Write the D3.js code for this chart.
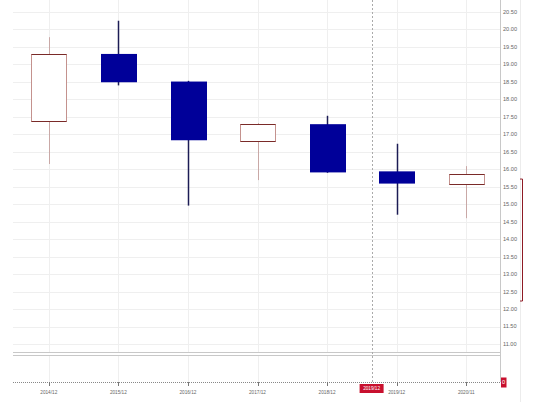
<!DOCTYPE html>
<html>
<head>
<meta charset="utf-8">
<script src="https://cdn.jsdelivr.net/npm/d3@7"></script>
<style>
  body { margin: 0; background: #fff; }
  svg { display: block; font-family: "Liberation Sans", Arial, sans-serif; }
  .grid line { stroke: #efefef; stroke-width: 1; }
  .ylab { fill: #666; font-size: 5.6px; }
  .xlab { fill: #666; font-size: 4.7px; }
</style>
</head>
<body>
<div id="chart"></div>
<script>
// candle data (period labels, OHLC)
var periods = ["2014/12", "2015/12", "2016/12", "2017/12", "2018/12", "2019/12", "2020/11"];
var opens  = [17.38, 19.30, 18.51, 16.80, 17.29, 15.94, 15.57];
var highs  = [19.78, 20.25, 18.53, 17.32, 17.53, 16.73, 16.09];
var lows   = [16.15, 18.40, 14.96, 15.69, 15.90, 14.70, 14.60];
var closes = [19.30, 18.49, 16.83, 17.29, 15.91, 15.59, 15.86];

var priceTicks = [11, 11.5, 12, 12.5, 13, 13.5, 14, 14.5, 15, 15.5, 16, 16.5, 17, 17.5, 18, 18.5, 19, 19.5, 20, 20.5];
var rangeMarker = [12.23, 15.72];   // bracket on the price axis
var crossIndex = 4.64;              // crosshair position (in candle index units)
var crossLabel = "2019/12";
var lowerValue = 0;                 // lower panel reading

var data = periods.map(function(p, i) {
    return {period: p, open: opens[i], high: highs[i], low: lows[i], close: closes[i]};
});

var W = 546, H = 413;
var plotLeft = 13, plotRight = 500,
    mainTop = 0, mainBottom = 352,
    lowTop = 355, lowBottom = 382;

var svg = d3.select("#chart").append("svg")
    .attr("width", W)
    .attr("height", H);

var x = d3.scaleBand()
    .domain(periods)
    .range([plotLeft + 1, plotRight + 1])
    .paddingInner(0.5)
    .paddingOuter(0.25);

var bw = x.bandwidth();
function cx(p) { return x(p) + bw / 2; }

var xi = d3.scaleLinear()
    .domain([0, periods.length - 1])
    .range([cx(periods[0]), cx(periods[periods.length - 1])]);

var y = d3.scaleLinear()
    .domain([11, 20.5])
    .range([344, 12]);

var y2 = d3.scaleLinear()
    .domain([0, 1])
    .range([lowBottom, lowTop]);

// horizontal grid
var grid = svg.append("g").attr("class", "grid");
grid.selectAll(".hg")
    .data(priceTicks)
  .enter().append("line")
    .attr("x1", plotLeft)
    .attr("x2", plotRight)
    .attr("y1", function(d) { return Math.round(y(d)) + 0.5; })
    .attr("y2", function(d) { return Math.round(y(d)) + 0.5; });

// vertical grid (main + lower panel)
grid.selectAll(".vg")
    .data(periods)
  .enter().append("line")
    .attr("x1", function(d) { return Math.round(cx(d)) + 0.5; })
    .attr("x2", function(d) { return Math.round(cx(d)) + 0.5; })
    .attr("y1", mainTop)
    .attr("y2", mainBottom);
grid.selectAll(".vg2")
    .data(periods)
  .enter().append("line")
    .attr("x1", function(d) { return Math.round(cx(d)) + 0.5; })
    .attr("x2", function(d) { return Math.round(cx(d)) + 0.5; })
    .attr("y1", lowTop)
    .attr("y2", lowBottom);

// panel borders
svg.append("line")
    .attr("x1", plotLeft).attr("x2", plotRight)
    .attr("y1", mainBottom + 0.5).attr("y2", mainBottom + 0.5)
    .attr("stroke", "#c8c8c8");
svg.append("line")
    .attr("x1", plotLeft).attr("x2", plotRight)
    .attr("y1", lowTop + 0.5).attr("y2", lowTop + 0.5)
    .attr("stroke", "#c8c8c8");
svg.append("line")
    .attr("x1", plotRight + 0.5).attr("x2", plotRight + 0.5)
    .attr("y1", 0).attr("y2", lowBottom)
    .attr("stroke", "#c8c8c8");
svg.append("line")
    .attr("x1", 520.5).attr("x2", 520.5)
    .attr("y1", 0).attr("y2", 402)
    .attr("stroke", "#ececec");

// crosshair
svg.append("line")
    .attr("x1", Math.round(xi(crossIndex)) + 0.5)
    .attr("x2", Math.round(xi(crossIndex)) + 0.5)
    .attr("y1", 0)
    .attr("y2", lowBottom)
    .attr("stroke", "#aaa")
    .attr("stroke-dasharray", "2,2");

// candles
var up = data.filter(function(d) { return d.close >= d.open; });
var down = data.filter(function(d) { return d.close < d.open; });

var candles = svg.append("g");

candles.selectAll(".wick-up")
    .data(up)
  .enter().append("line")
    .attr("x1", function(d) { return Math.round(cx(d.period)) + 0.5; })
    .attr("x2", function(d) { return Math.round(cx(d.period)) + 0.5; })
    .attr("y1", function(d) { return y(d.high); })
    .attr("y2", function(d) { return y(d.low); })
    .attr("stroke", "#c9a8a6")
    .attr("stroke-width", 1);

candles.selectAll(".wick-down")
    .data(down)
  .enter().append("line")
    .attr("x1", function(d) { return Math.round(cx(d.period)) + 0.5; })
    .attr("x2", function(d) { return Math.round(cx(d.period)) + 0.5; })
    .attr("y1", function(d) { return y(d.high); })
    .attr("y2", function(d) { return y(d.low); })
    .attr("stroke", "#1c1c55")
    .attr("stroke-width", 1.5);

candles.selectAll(".body-up")
    .data(up)
  .enter().append("rect")
    .attr("x", function(d) { return Math.round(x(d.period)) + 0.5; })
    .attr("y", function(d) { return Math.round(y(d.close)) + 0.5; })
    .attr("width", Math.round(bw))
    .attr("height", function(d) { return Math.round(y(d.open)) - Math.round(y(d.close)); })
    .attr("fill", "#fff")
    .attr("stroke", "#c4928e")
    .attr("stroke-width", 1);

// darker top/bottom edges of the hollow bodies
candles.selectAll(".edge-up")
    .data(up.flatMap(function(d) { return [{p: d.period, v: d.open}, {p: d.period, v: d.close}]; }))
  .enter().append("line")
    .attr("x1", function(d) { return Math.round(x(d.p)) + 0.5; })
    .attr("x2", function(d) { return Math.round(x(d.p)) + Math.round(bw) + 0.5; })
    .attr("y1", function(d) { return Math.round(y(d.v)) + 0.5; })
    .attr("y2", function(d) { return Math.round(y(d.v)) + 0.5; })
    .attr("stroke", "#7a2a28")
    .attr("stroke-width", 1);

candles.selectAll(".body-down")
    .data(down)
  .enter().append("rect")
    .attr("x", function(d) { return Math.round(x(d.period)); })
    .attr("y", function(d) { return y(d.open); })
    .attr("width", Math.round(bw) + 1)
    .attr("height", function(d) { return y(d.close) - y(d.open); })
    .attr("fill", "#000099");

// price axis labels
svg.append("g").selectAll("text")
    .data(priceTicks)
  .enter().append("text")
    .attr("class", "ylab")
    .attr("x", 503)
    .attr("y", function(d) { return y(d); })
    .attr("dy", "0.35em")
    .text(function(d) { return d3.format(".2f")(d); });

// range bracket on price axis
svg.append("path")
    .attr("d", "M520," + y(rangeMarker[1]) + "H522.5V" + y(rangeMarker[0]) + "H520")
    .attr("fill", "none")
    .attr("stroke", "#8e1b25")
    .attr("stroke-width", 1);

// lower panel zero line (dotted time axis)
svg.append("line")
    .attr("x1", plotLeft)
    .attr("x2", plotRight)
    .attr("y1", y2(lowerValue) + 0.5)
    .attr("y2", y2(lowerValue) + 0.5)
    .attr("stroke", "#888")
    .attr("stroke-dasharray", "1,1");

// x ticks + labels
var xt = svg.append("g");
xt.selectAll("line")
    .data(periods)
  .enter().append("line")
    .attr("x1", function(d) { return Math.round(cx(d)) + 0.5; })
    .attr("x2", function(d) { return Math.round(cx(d)) + 0.5; })
    .attr("y1", lowBottom)
    .attr("y2", lowBottom + 4)
    .attr("stroke", "#777");
xt.selectAll("text")
    .data(periods)
  .enter().append("text")
    .attr("class", "xlab")
    .attr("x", function(d) { return cx(d); })
    .attr("y", 392)
    .attr("dy", "0.35em")
    .attr("text-anchor", "middle")
    .text(function(d) { return d; });

// crosshair time label
var cl = svg.append("g")
    .attr("transform", "translate(" + xi(crossIndex) + ",388.5)");
cl.append("rect")
    .attr("x", -12).attr("y", -4.5)
    .attr("width", 24).attr("height", 9)
    .attr("fill", "#c8102e");
cl.append("text")
    .attr("class", "xlab")
    .attr("text-anchor", "middle")
    .attr("dy", "0.35em")
    .style("fill", "#fff")
    .text(crossLabel);

// lower panel value label
var vl = svg.append("g")
    .attr("transform", "translate(503.5," + (y2(lowerValue) + 0.5) + ")");
vl.append("rect")
    .attr("x", -2.5).attr("y", -5)
    .attr("width", 5.5).attr("height", 10)
    .attr("fill", "#c8102e");
vl.append("text")
    .attr("class", "ylab")
    .attr("text-anchor", "middle")
    .attr("dy", "0.35em")
    .style("fill", "#fff")
    .text(lowerValue);
</script>
</body>
</html>
